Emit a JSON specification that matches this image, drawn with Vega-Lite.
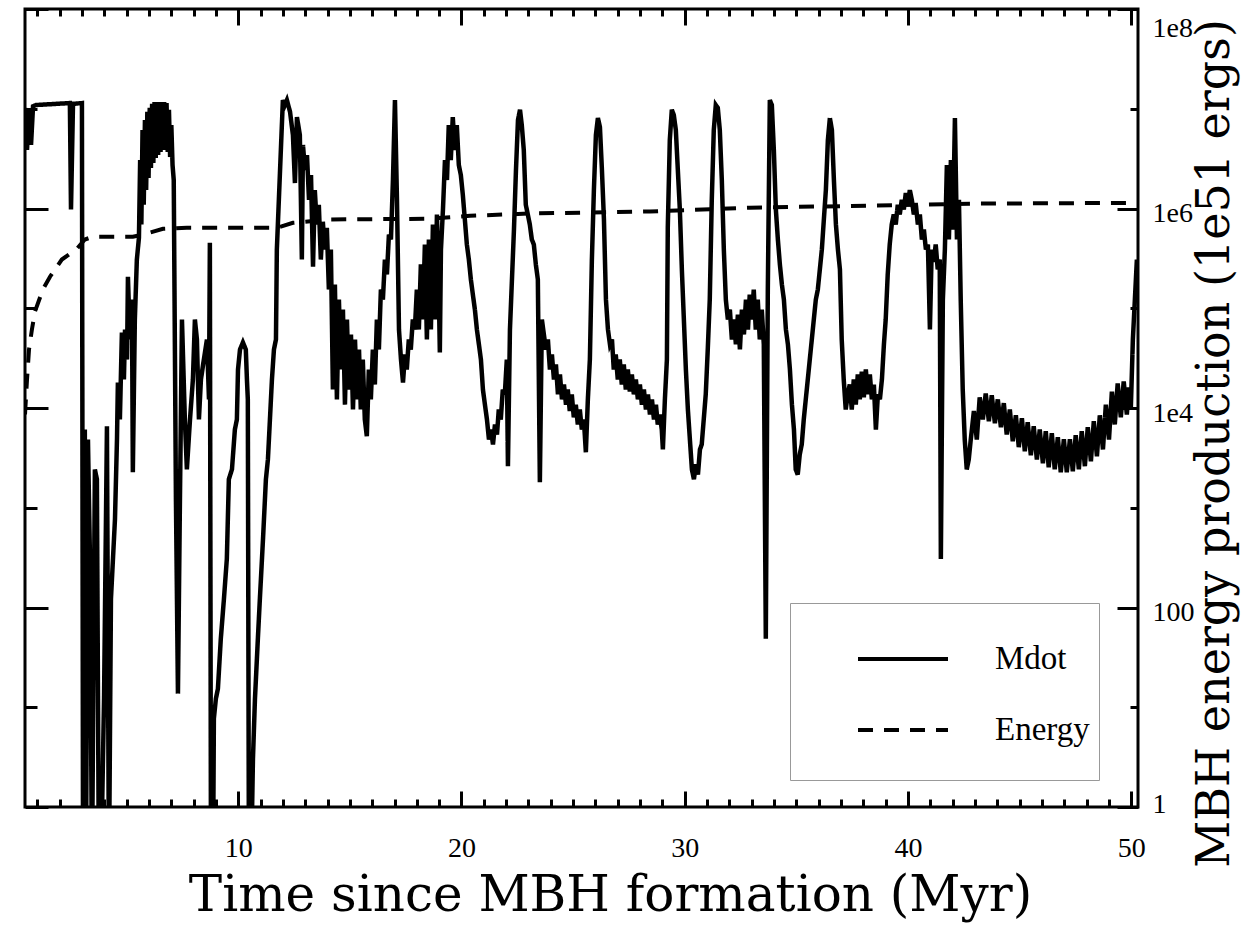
{
  "$schema": "https://vega.github.io/schema/vega-lite/v6.json",
  "width": 1113,
  "height": 798,
  "autosize": {"type": "none"},
  "padding": {"left": 25, "top": 9, "right": 106, "bottom": 119},
  "background": "white",
  "config": {"view": {"stroke": "black", "strokeWidth": 3}, "font": "Liberation Serif, Times New Roman, Tinos, serif"},
  "datasets": {
    "mdot": [
      {"time":0.45,"value":1.02e7},{"time":0.54,"value":3.86e6},{"time":0.63,"value":9.77e6},{"time":0.72,"value":4.34e6},{"time":0.81,"value":1.06e7},{"time":0.94,"value":1.09e7},{"time":2.46,"value":1.14e7},{"time":2.51,"value":9.77e5},{"time":2.60,"value":1.12e7},{"time":3.00,"value":1.14e7},
      {"time":3.05,"value":0.2},{"time":3.13,"value":6080},{"time":3.18,"value":0.2},{"time":3.27,"value":4830},{"time":3.36,"value":306},{"time":3.45,"value":0.2},{"time":3.58,"value":2420},{"time":3.67,"value":1930},{"time":3.76,"value":0.2},{"time":3.85,"value":0.2},{"time":3.99,"value":12.2},{"time":4.12,"value":6560},{"time":4.21,"value":0.2},{"time":4.30,"value":122},{"time":4.39,"value":306},{"time":4.48,"value":771},{"time":4.57,"value":4860},{"time":4.61,"value":18000},{"time":4.70,"value":7670},{"time":4.79,"value":57100},{"time":4.88,"value":19300},{"time":4.93,"value":61200},{"time":5.02,"value":30600},{"time":5.06,"value":207000},{"time":5.15,"value":48600},{"time":5.24,"value":122000},{"time":5.28,"value":2270},{"time":5.37,"value":77100},{"time":5.46,"value":308000},
      {"time":5.553,"value":5.09e5},{"time":5.607,"value":3.06e6},{"time":5.661,"value":6.92e5},{"time":5.714,"value":6.12e6},{"time":5.768,"value":1.09e6},{"time":5.822,"value":7.71e6},{"time":5.875,"value":1.53e6},{"time":5.929,"value":9.33e6},{"time":5.983,"value":2.02e6},{"time":6.037,"value":1.02e7},{"time":6.090,"value":2.55e6},{"time":6.144,"value":1.12e7},{"time":6.198,"value":2.86e6},{"time":6.252,"value":1.17e7},{"time":6.305,"value":3.21e6},{"time":6.359,"value":1.17e7},{"time":6.413,"value":3.44e6},{"time":6.467,"value":1.17e7},{"time":6.520,"value":3.69e6},{"time":6.574,"value":1.17e7},{"time":6.628,"value":3.86e6},{"time":6.682,"value":1.17e7},{"time":6.735,"value":3.86e6},{"time":6.789,"value":1.14e7},{"time":6.843,"value":3.69e6},{"time":6.897,"value":9.77e6},{"time":6.950,"value":3.28e6},{"time":7.004,"value":6.87e6},{"time":7.058,"value":2.73e6},{"time":7.112,"value":1.93e6},
      {"time":7.21,"value":1220},{"time":7.30,"value":13.7},{"time":7.39,"value":1220},{"time":7.48,"value":77100},{"time":7.61,"value":7670},{"time":7.70,"value":2430},{"time":7.84,"value":7670},{"time":7.97,"value":19300},{"time":8.06,"value":77100},{"time":8.15,"value":48600},{"time":8.24,"value":7670},{"time":8.33,"value":19300},{"time":8.46,"value":30600},{"time":8.60,"value":48600},{"time":8.69,"value":12200},{"time":8.73,"value":454000},{"time":8.78,"value":0.2},
      {"time":8.87,"value":0.2},{"time":8.91,"value":7.71},{"time":9.00,"value":12.2},{"time":9.09,"value":15.3},{"time":9.22,"value":48.6},{"time":9.36,"value":122},{"time":9.49,"value":306},{"time":9.58,"value":1930},{"time":9.72,"value":2430},{"time":9.85,"value":6080},{"time":9.94,"value":7670},{"time":9.99,"value":24300},{"time":10.08,"value":38600},{"time":10.21,"value":45400},{"time":10.34,"value":38600},{"time":10.39,"value":19300},{"time":10.43,"value":12200},{"time":10.48,"value":0.2},{"time":10.57,"value":0.2},{"time":10.66,"value":3.06},{"time":10.75,"value":12.2},{"time":10.88,"value":48.6},{"time":10.97,"value":122},{"time":11.11,"value":486},{"time":11.24,"value":1930},{"time":11.33,"value":3050},{"time":11.42,"value":7670},{"time":11.51,"value":19300},{"time":11.60,"value":38600},{"time":11.69,"value":48600},{"time":11.73,"value":388000},{"time":11.82,"value":1.22e6},{"time":11.91,"value":3.86e6},{"time":12.00,"value":1.22e7},
      {"time":12.09,"value":1.09e7},{"time":12.18,"value":1.22e7},{"time":12.32,"value":9.33e6},{"time":12.45,"value":5.46e6},{"time":12.54,"value":1.80e6},{"time":12.63,"value":8.26e6},{"time":12.76,"value":5.46e6},{"time":12.85,"value":3.08e5},{"time":12.90,"value":4.34e6},{"time":12.99,"value":2.43e6},{"time":13.08,"value":3.44e6},{"time":13.17,"value":1.22e6},{"time":13.26,"value":2.17e6},{"time":13.35,"value":2.61e5},{"time":13.43,"value":1.53e6},{"time":13.52,"value":6.92e5},{"time":13.61,"value":1.09e6},{"time":13.70,"value":3.08e5},{"time":13.79,"value":7.36e5},{"time":13.88,"value":3.88e5},{"time":13.97,"value":6.41e5},{"time":14.06,"value":1.54e5},{"time":14.15,"value":3.88e5},{"time":14.24,"value":1.53e4},{"time":14.33,"value":1.73e5},{"time":14.42,"value":1.22e4},{"time":14.51,"value":1.22e5},{"time":14.60,"value":2.43e4},{"time":14.69,"value":9.70e4},{"time":14.78,"value":1.08e4},{"time":14.87,"value":7.71e4},{"time":14.96,"value":1.53e4},{"time":15.05,"value":5.46e4},{"time":15.14,"value":9.66e3},{"time":15.23,"value":4.86e4},{"time":15.32,"value":1.22e4},{"time":15.41,"value":3.86e4},{"time":15.49,"value":9.66e3},{"time":15.58,"value":3.06e4},{"time":15.67,"value":7.67e3},{"time":15.76,"value":5.21e3},{"time":15.85,"value":2.43e4},{"time":15.94,"value":1.22e4},{"time":16.03,"value":3.86e4},{"time":16.12,"value":1.72e4},{"time":16.21,"value":7.71e4},{"time":16.30,"value":3.86e4},{"time":16.39,"value":1.54e5},{"time":16.48,"value":1.22e5},{"time":16.57,"value":3.08e5},{"time":16.66,"value":2.18e5},{"time":16.75,"value":5.48e5},{"time":16.84,"value":4.89e5},{"time":16.93,"value":1.93e6},{"time":17.02,"value":1.22e7},
      {"time":17.11,"value":1.22e6},{"time":17.20,"value":6.12e4},{"time":17.29,"value":3.06e4},{"time":17.38,"value":1.80e4},{"time":17.47,"value":3.44e4},{"time":17.55,"value":2.43e4},{"time":17.64,"value":4.86e4},{"time":17.73,"value":3.86e4},{"time":17.82,"value":7.71e4},{"time":17.91,"value":6.12e4},{"time":18.00,"value":1.54e5},{"time":18.09,"value":6.12e4},{"time":18.18,"value":2.75e5},{"time":18.27,"value":7.71e4},{"time":18.36,"value":4.36e5},{"time":18.45,"value":4.86e4},{"time":18.54,"value":4.89e5},{"time":18.63,"value":6.12e4},{"time":18.72,"value":6.92e5},{"time":18.81,"value":7.71e4},{"time":18.90,"value":8.71e5},{"time":18.99,"value":1.22e5},{"time":19.03,"value":3.60e4},{"time":19.08,"value":3.88e5},{"time":19.17,"value":9.77e5},{"time":19.26,"value":3.06e6},{"time":19.35,"value":1.93e6},{"time":19.43,"value":6.87e6},{"time":19.52,"value":3.06e6},{"time":19.61,"value":8.26e6},{"time":19.70,"value":3.86e6},{"time":19.79,"value":6.87e6},{"time":19.88,"value":2.73e6},{"time":19.97,"value":2.17e6},{"time":20.06,"value":1.37e6},{"time":20.15,"value":7.76e5},{"time":20.24,"value":4.36e5},{"time":20.33,"value":3.08e5},{"time":20.42,"value":1.94e5},{"time":20.51,"value":1.37e5},{"time":20.60,"value":9.70e4},{"time":20.69,"value":6.12e4},{"time":20.78,"value":4.34e4},{"time":20.87,"value":3.06e4},{"time":20.96,"value":1.53e4},{"time":21.05,"value":1.08e4},{"time":21.14,"value":7.67e3},{"time":21.23,"value":4.83e3},{"time":21.32,"value":6.08e3},{"time":21.41,"value":4.31e3},{"time":21.50,"value":6.84e3},{"time":21.59,"value":5.42e3},{"time":21.67,"value":9.66e3},{"time":21.76,"value":7.67e3},{"time":21.85,"value":1.53e4},{"time":21.94,"value":1.37e4},{"time":22.03,"value":3.06e4},{"time":22.08,"value":2.61e3},{"time":22.17,"value":6.12e4},{"time":22.26,"value":1.94e5},{"time":22.35,"value":6.15e5},{"time":22.44,"value":2.43e6},{"time":22.53,"value":7.71e6},{"time":22.62,"value":9.77e6},
      {"time":22.70,"value":6.87e6},{"time":22.79,"value":3.86e6},{"time":22.88,"value":1.09e6},{"time":22.97,"value":8.71e5},{"time":23.06,"value":6.92e5},{"time":23.15,"value":4.89e5},{"time":23.24,"value":4.36e5},{"time":23.33,"value":2.75e5},{"time":23.42,"value":1.94e5},{"time":23.51,"value":1.80e3},{"time":23.60,"value":7.71e4},{"time":23.69,"value":5.46e4},{"time":23.78,"value":3.86e4},{"time":23.87,"value":4.86e4},{"time":23.96,"value":2.43e4},{"time":24.05,"value":3.44e4},{"time":24.14,"value":1.93e4},{"time":24.23,"value":2.73e4},{"time":24.32,"value":1.37e4},{"time":24.41,"value":2.17e4},{"time":24.50,"value":1.22e4},{"time":24.59,"value":1.72e4},{"time":24.68,"value":1.08e4},{"time":24.76,"value":1.53e4},{"time":24.85,"value":9.33e3},{"time":24.94,"value":1.37e4},{"time":25.03,"value":8.07e3},{"time":25.12,"value":1.08e4},{"time":25.21,"value":6.84e3},{"time":25.30,"value":9.66e3},{"time":25.39,"value":6.08e3},{"time":25.48,"value":7.67e3},{"time":25.57,"value":3.60e3},{"time":25.66,"value":1.22e4},{"time":25.75,"value":3.06e4},{"time":25.84,"value":3.08e5},{"time":25.93,"value":1.53e6},{"time":26.02,"value":5.46e6},{"time":26.11,"value":8.07e6},{"time":26.20,"value":6.56e6},{"time":26.29,"value":2.43e6},{"time":26.38,"value":7.76e5},{"time":26.47,"value":1.22e5},{"time":26.56,"value":6.12e4},{"time":26.65,"value":4.34e4},{"time":26.74,"value":4.86e4},{"time":26.82,"value":2.43e4},{"time":26.91,"value":3.44e4},{"time":27.00,"value":1.93e4},{"time":27.09,"value":3.06e4},{"time":27.18,"value":1.72e4},{"time":27.27,"value":2.73e4},{"time":27.36,"value":1.53e4},{"time":27.45,"value":2.43e4},{"time":27.54,"value":1.46e4},{"time":27.63,"value":2.17e4},{"time":27.72,"value":1.37e4},{"time":27.81,"value":1.93e4},{"time":27.90,"value":1.22e4},{"time":27.99,"value":1.72e4},{"time":28.08,"value":1.08e4},{"time":28.17,"value":1.53e4},{"time":28.26,"value":9.66e3},{"time":28.35,"value":1.37e4},{"time":28.44,"value":8.61e3},{"time":28.53,"value":1.22e4},{"time":28.62,"value":7.67e3},{"time":28.71,"value":1.08e4},{"time":28.79,"value":6.84e3},{"time":28.88,"value":8.61e3},{"time":28.97,"value":6.08e3},{"time":29.02,"value":3.84e3},{"time":29.11,"value":1.22e4},{"time":29.20,"value":3.06e4},{"time":29.24,"value":6.53e5},{"time":29.33,"value":4.86e6},{"time":29.42,"value":9.77e6},
      {"time":29.51,"value":8.65e6},{"time":29.60,"value":6.12e6},{"time":29.69,"value":2.43e6},{"time":29.78,"value":9.77e5},{"time":29.87,"value":2.45e5},{"time":29.96,"value":7.71e4},{"time":30.05,"value":2.43e4},{"time":30.14,"value":9.66e3},{"time":30.23,"value":4.83e3},{"time":30.32,"value":2.42e3},{"time":30.41,"value":1.93e3},{"time":30.50,"value":2.72e3},{"time":30.59,"value":2.15e3},{"time":30.68,"value":3.84e3},{"time":30.76,"value":4.31e3},{"time":30.85,"value":7.67e3},{"time":30.94,"value":1.37e4},{"time":31.03,"value":3.86e4},{"time":31.12,"value":1.22e5},{"time":31.21,"value":1.22e6},{"time":31.30,"value":6.12e6},{"time":31.39,"value":1.09e7},{"time":31.48,"value":1.02e7},{"time":31.57,"value":6.12e6},{"time":31.66,"value":1.93e6},{"time":31.75,"value":3.88e5},{"time":31.84,"value":1.22e5},{"time":31.93,"value":7.71e4},{"time":32.02,"value":9.70e4},{"time":32.11,"value":4.86e4},{"time":32.20,"value":7.71e4},{"time":32.29,"value":4.34e4},{"time":32.38,"value":8.65e4},{"time":32.47,"value":3.86e4},{"time":32.56,"value":9.70e4},{"time":32.65,"value":5.46e4},{"time":32.74,"value":1.22e5},{"time":32.83,"value":6.12e4},{"time":32.91,"value":1.37e5},{"time":33.00,"value":7.71e4},{"time":33.09,"value":1.54e5},{"time":33.18,"value":6.12e4},{"time":33.27,"value":1.22e5},{"time":33.36,"value":4.86e4},{"time":33.45,"value":9.70e4},{"time":33.54,"value":4.34e4},{"time":33.63,"value":48.6},{"time":33.72,"value":1.54e5},{"time":33.81,"value":1.22e7},
      {"time":33.90,"value":1.09e7},{"time":33.99,"value":3.86e6},{"time":34.08,"value":9.77e5},{"time":34.17,"value":4.89e5},{"time":34.26,"value":2.75e5},{"time":34.35,"value":1.73e5},{"time":34.44,"value":1.22e5},{"time":34.53,"value":6.12e4},{"time":34.62,"value":4.34e4},{"time":34.71,"value":2.43e4},{"time":34.80,"value":1.08e4},{"time":34.89,"value":6.08e3},{"time":34.97,"value":2.42e3},{"time":35.06,"value":2.15e3},{"time":35.15,"value":3.42e3},{"time":35.24,"value":4.31e3},{"time":35.33,"value":7.67e3},{"time":35.42,"value":1.22e4},{"time":35.51,"value":1.93e4},{"time":35.60,"value":3.06e4},{"time":35.69,"value":4.86e4},{"time":35.78,"value":7.71e4},{"time":35.87,"value":1.22e5},{"time":35.96,"value":1.54e5},{"time":36.05,"value":2.45e5},{"time":36.14,"value":3.88e5},{"time":36.23,"value":7.76e5},{"time":36.32,"value":1.53e6},{"time":36.41,"value":4.86e6},{"time":36.50,"value":8.07e6},{"time":36.59,"value":6.12e6},{"time":36.68,"value":1.93e6},{"time":36.77,"value":6.92e5},{"time":36.86,"value":3.88e5},{"time":36.95,"value":2.45e5},{"time":37.03,"value":4.86e4},{"time":37.12,"value":1.93e4},{"time":37.21,"value":9.66e3},{"time":37.30,"value":1.37e4},{"time":37.39,"value":1.72e4},{"time":37.48,"value":9.66e3},{"time":37.57,"value":1.93e4},{"time":37.66,"value":1.08e4},{"time":37.75,"value":2.17e4},{"time":37.84,"value":1.22e4},{"time":37.93,"value":2.32e4},{"time":38.02,"value":1.28e4},{"time":38.11,"value":2.43e4},{"time":38.20,"value":1.37e4},{"time":38.29,"value":2.17e4},{"time":38.38,"value":1.22e4},{"time":38.47,"value":1.72e4},{"time":38.56,"value":6.08e3},{"time":38.65,"value":1.37e4},{"time":38.74,"value":1.22e4},{"time":38.83,"value":1.93e4},{"time":38.92,"value":4.34e4},{"time":39.00,"value":7.71e4},{"time":39.09,"value":2.18e5},{"time":39.18,"value":4.36e5},{"time":39.27,"value":6.92e5},{"time":39.36,"value":8.71e5},{"time":39.45,"value":6.92e5},{"time":39.54,"value":1.09e6},{"time":39.63,"value":8.71e5},{"time":39.72,"value":1.22e6},{"time":39.81,"value":9.77e5},{"time":39.90,"value":1.43e6},{"time":39.99,"value":1.09e6},{"time":40.08,"value":1.53e6},{"time":40.17,"value":1.22e6},{"time":40.26,"value":8.71e5},{"time":40.35,"value":1.09e6},{"time":40.44,"value":6.92e5},{"time":40.53,"value":8.71e5},{"time":40.62,"value":4.89e5},{"time":40.71,"value":6.15e5},{"time":40.80,"value":3.88e5},{"time":40.89,"value":4.36e5},{"time":40.98,"value":6.12e4},{"time":41.06,"value":3.88e5},{"time":41.15,"value":2.92e5},{"time":41.24,"value":4.36e5},{"time":41.33,"value":2.45e5},{"time":41.42,"value":3.08e5},{"time":41.47,"value":306},{"time":41.56,"value":1.22e5},{"time":41.65,"value":3.88e5},{"time":41.74,"value":2.73e6},{"time":41.83,"value":4.89e5},{"time":41.92,"value":3.06e6},{"time":42.01,"value":6.15e5},{"time":42.10,"value":8.07e6},{"time":42.19,"value":4.89e5},{"time":42.28,"value":1.22e6},{"time":42.36,"value":1.22e5},{"time":42.45,"value":1.53e4},{"time":42.54,"value":4.83e3},{"time":42.63,"value":2.42e3},
      {"time":42.72,"value":3.05e3},{"time":42.81,"value":4.83e3},{"time":42.95,"value":9.33e3},{"time":43.08,"value":4.83e3},{"time":43.21,"value":1.28e4},{"time":43.35,"value":7.67e3},{"time":43.48,"value":1.40e4},{"time":43.62,"value":7.36e3},{"time":43.75,"value":1.34e4},{"time":43.89,"value":7.03e3},{"time":44.02,"value":1.22e4},{"time":44.16,"value":6.41e3},{"time":44.29,"value":1.12e4},{"time":44.42,"value":5.42e3},{"time":44.56,"value":9.66e3},{"time":44.69,"value":4.64e3},{"time":44.83,"value":8.45e3},{"time":44.96,"value":4.05e3},{"time":45.10,"value":7.89e3},{"time":45.23,"value":3.69e3},{"time":45.36,"value":7.19e3},{"time":45.50,"value":3.36e3},{"time":45.63,"value":6.56e3},{"time":45.77,"value":3.05e3},{"time":45.90,"value":6.08e3},{"time":46.04,"value":2.79e3},{"time":46.17,"value":5.85e3},{"time":46.30,"value":2.55e3},{"time":46.44,"value":5.58e3},{"time":46.57,"value":2.43e3},{"time":46.71,"value":5.09e3},{"time":46.84,"value":2.27e3},{"time":46.98,"value":4.86e3},{"time":47.11,"value":2.27e3},{"time":47.25,"value":4.86e3},{"time":47.38,"value":2.32e3},{"time":47.51,"value":5.34e3},{"time":47.65,"value":2.43e3},{"time":47.78,"value":5.85e3},{"time":47.92,"value":2.61e3},{"time":48.05,"value":6.41e3},{"time":48.19,"value":2.92e3},{"time":48.32,"value":7.36e3},{"time":48.46,"value":3.28e3},{"time":48.59,"value":8.45e3},{"time":48.73,"value":3.84e3},{"time":48.86,"value":1.08e4},{"time":49.00,"value":4.83e3},{"time":49.13,"value":1.46e4},{"time":49.26,"value":6.84e3},{"time":49.39,"value":1.76e4},{"time":49.53,"value":8.07e3},{"time":49.66,"value":1.85e4},{"time":49.80,"value":8.61e3},{"time":49.89,"value":1.61e4},{"time":49.98,"value":1.02e4},{"time":50.07,"value":4.86e4},{"time":50.16,"value":1.22e5},{"time":50.25,"value":3.08e5}
    ],
    "energy": [
      {"time":0.45,"value":8610},{"time":0.54,"value":19300},{"time":0.63,"value":38600},{"time":0.76,"value":61200},{"time":0.90,"value":93300},{"time":1.25,"value":154000},{"time":1.57,"value":207000},{"time":2.10,"value":308000},{"time":2.78,"value":396000},{"time":3.13,"value":489000},{"time":3.49,"value":521000},{"time":5.28,"value":521000},{"time":5.73,"value":548000},{"time":6.63,"value":626000},{"time":7.70,"value":641000},{"time":11.73,"value":641000},{"time":12.45,"value":719000},{"time":14.11,"value":776000},{"time":18.58,"value":789000},{"time":20.38,"value":845000},{"time":23.06,"value":891000},{"time":28.44,"value":933000},{"time":32.91,"value":1020000},{"time":37.39,"value":1060000},{"time":43.21,"value":1120000},{"time":50.25,"value":1140000}
    ]
  },
  "layer": [
    {
      "data": {"name": "mdot"},
      "mark": {"type": "line", "color": "black", "strokeWidth": 4.5, "clip": true},
      "encoding": {
        "x": {
          "field": "time", "type": "quantitative",
          "scale": {"domain": [0.45, 50.3], "nice": false, "zero": false},
          "axis": {
            "orient": "bottom",
            "values": [1,2,3,4,5,6,7,8,9,10,11,12,13,14,15,16,17,18,19,20,21,22,23,24,25,26,27,28,29,30,31,32,33,34,35,36,37,38,39,40,41,42,43,44,45,46,47,48,49,50],
            "labelExpr": "datum.value % 10 === 0 ? datum.label : ''",
            "tickSize": {"condition": {"test": "datum.value % 10 === 0", "value": -16}, "value": -8},
            "tickWidth": 3, "tickColor": "black", "domain": false, "grid": false,
            "labelFont": "Liberation Serif, Times New Roman, Tinos, serif", "labelFontSize": 28, "labelColor": "black",
            "labelPadding": 43, "labelOverlap": false, "labelFlush": false, "labelBaseline": "top",
            "title": "Time since MBH formation (Myr)",
            "titleFont": "DejaVu Serif", "titleFontSize": 50, "titleFontWeight": "normal", "titleColor": "black",
            "titleX": 585, "titleY": 103, "titleAlign": "center", "titleBaseline": "alphabetic"
          }
        },
        "y": {
          "field": "value", "type": "quantitative",
          "scale": {"type": "log", "domain": [1, 100000000], "nice": false},
          "axis": {
            "orient": "right",
            "values": [1,10,100,1000,10000,100000,1000000,10000000,100000000],
            "labelExpr": "datum.value == 1 ? '1' : datum.value == 100 ? '100' : datum.value == 10000 ? '1e4' : datum.value == 1000000 ? '1e6' : datum.value == 100000000 ? '1e8' : ''",
            "tickSize": {"condition": {"test": "datum.value == 1 || datum.value == 100 || datum.value == 10000 || datum.value == 1000000 || datum.value == 100000000", "value": -21}, "value": -8},
            "tickWidth": 3, "tickColor": "black", "domain": false, "grid": false,
            "labelFont": "Liberation Serif, Times New Roman, Tinos, serif", "labelFontSize": 28, "labelColor": "black",
            "labelPadding": 35, "labelOverlap": false, "labelFlush": false, "labelAlign": "left",
            "labelBaseline": {"condition": [{"test": "datum.value == 100000000", "value": "top"}, {"test": "datum.value == 1", "value": "alphabetic"}], "value": "middle"},
            "labelOffset": 5,
            "title": "MBH energy production (1e51 ergs)",
            "titleFont": "DejaVu Serif", "titleFontSize": 46, "titleFontWeight": "normal", "titleColor": "black",
            "titleAngle": 270, "titleX": 90, "titleY": 434, "titleAlign": "center", "titleBaseline": "alphabetic"
          }
        },
        "strokeDash": {
          "datum": "Mdot", "type": "nominal",
          "scale": {"domain": ["Mdot", "Energy"], "range": [[1, 0], [15, 11]]},
          "legend": {
            "orient": "none", "legendX": 765, "legendY": 594,
            "title": " ", "titleOrient": "bottom", "titleFontSize": 14, "titlePadding": 10,
            "symbolType": "stroke", "symbolSize": 8100, "symbolStrokeWidth": 4, "symbolStrokeColor": "black",
            "labelFont": "Liberation Serif, Times New Roman, Tinos, serif", "labelFontSize": 33, "labelColor": "black", "labelOffset": 45,
            "padding": 9, "symbolOffset": 57, "rowPadding": 7,
            "strokeColor": "#999999", "fillColor": "white"
          }
        }
      }
    },
    {
      "data": {"name": "energy"},
      "mark": {"type": "line", "color": "black", "strokeWidth": 4, "clip": true},
      "encoding": {
        "x": {"field": "time", "type": "quantitative", "axis": null},
        "y": {"field": "value", "type": "quantitative", "axis": null},
        "strokeDash": {"datum": "Energy", "type": "nominal"}
      }
    },
    {
      "data": {"name": "energy"},
      "mark": {"type": "line", "strokeOpacity": 0},
      "encoding": {
        "x": {
          "field": "time", "type": "quantitative",
          "axis": {
            "orient": "top", "title": null, "labels": false, "domain": false, "grid": false,
            "values": [1,2,3,4,5,6,7,8,9,10,11,12,13,14,15,16,17,18,19,20,21,22,23,24,25,26,27,28,29,30,31,32,33,34,35,36,37,38,39,40,41,42,43,44,45,46,47,48,49,50],
            "tickSize": {"condition": {"test": "datum.value % 10 === 0", "value": -16}, "value": -7},
            "tickWidth": 3, "tickColor": "black"
          }
        },
        "y": {
          "field": "value", "type": "quantitative",
          "axis": {
            "orient": "left", "title": null, "labels": false, "domain": false, "grid": false,
            "values": [1,10,100,1000,10000,100000,1000000,10000000,100000000],
            "tickSize": {"condition": {"test": "datum.value == 1 || datum.value == 100 || datum.value == 10000 || datum.value == 1000000 || datum.value == 100000000", "value": -23}, "value": -12},
            "tickWidth": 3, "tickColor": "black"
          }
        }
      }
    }
  ],
  "resolve": {"axis": {"x": "independent", "y": "independent"}}
}
